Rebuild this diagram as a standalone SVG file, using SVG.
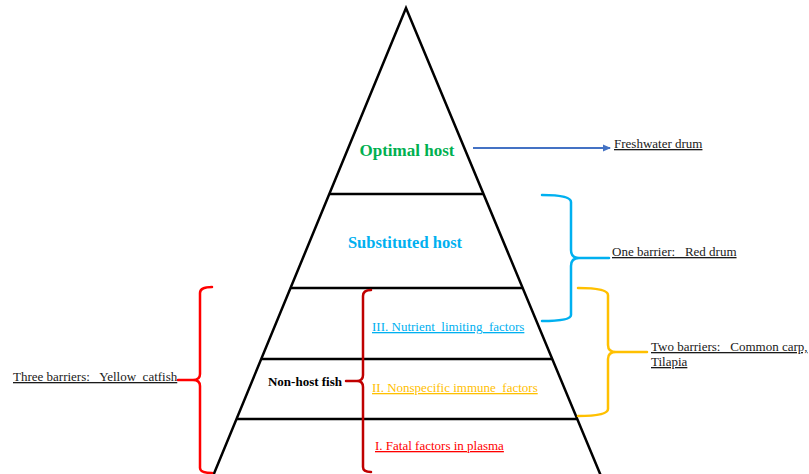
<svg xmlns="http://www.w3.org/2000/svg" width="809" height="474" viewBox="0 0 809 474">
<style>
text{font-family:"Liberation Serif","Times New Roman",serif;white-space:pre}
.lbl{font-size:13px;fill:#1a1a1a;text-decoration:underline}
.tier{font-size:13px;text-decoration:underline}
.ttl{font-weight:bold}
.tri{fill:none;stroke:#000;stroke-width:2.5}
.brace{fill:none;stroke-width:2.5;stroke-linecap:round;stroke-linejoin:round}
</style>
<defs>
<marker id="ah" markerWidth="8" markerHeight="8" refX="7" refY="4" orient="auto" markerUnits="userSpaceOnUse">
<path d="M0,0.5 L8,4 L0,7.5 z" fill="#4472c4"/>
</marker>
</defs>
<rect width="809" height="474" fill="#fff"/>
<g id="pyramid">
<path class="tri" d="M213,476 L406,8 L601,476"/>
<line class="tri" x1="330" y1="194" x2="484" y2="194"/>
<line class="tri" x1="291" y1="288" x2="523" y2="288"/>
<line class="tri" x1="262" y1="359" x2="553" y2="359"/>
<line class="tri" x1="237" y1="419" x2="578" y2="419"/>
</g>
<g id="optimal-host"><text class="ttl" x="407" y="156" font-size="17" fill="#00b050" text-anchor="middle">Optimal host</text></g>
<g id="substituted-host"><text class="ttl" x="405" y="248" font-size="16.5" fill="#00b0f0" text-anchor="middle">Substituted host</text></g>
<g id="non-host"><text class="ttl" x="305" y="386" font-size="13" fill="#000" text-anchor="middle">Non-host fish</text></g>
<g id="tier3"><text class="tier" x="372" y="331" fill="#00b0f0">III. Nutrient  limiting  factors</text></g>
<g id="tier2"><text class="tier" x="372" y="392" fill="#ffc000">II. Nonspecific immune  factors</text></g>
<g id="tier1"><text class="tier" x="375" y="450" fill="#ff0000">I. Fatal factors in plasma</text></g>
<g id="freshwater-drum"><text class="lbl" x="614" y="148">Freshwater drum</text></g>
<g id="one-barrier"><text class="lbl" x="612" y="256">One barrier:   Red drum</text></g>
<g id="two-barriers"><text class="lbl" x="651" y="351">Two barriers:   Common carp,</text><text class="lbl" x="651" y="366">Tilapia</text></g>
<g id="three-barriers"><text class="lbl" x="13" y="381">Three barriers:   Yellow  catfish</text></g>
<g id="connectors">
<line x1="473" y1="148" x2="610" y2="148" stroke="#4472c4" stroke-width="2" marker-end="url(#ah)"/>
<path class="brace" stroke="#00b0f0" d="M542,195 Q571,195 571,202 L571,250 Q571,258 579,258 L609,258 M579,258 Q571,258 571,266 L571,315 Q571,321 542,321"/>
<path class="brace" stroke="#ffc000" d="M578,288 Q608,288 608,295 L608,345 Q608,352 616,352 L647,352 M616,352 Q608,352 608,359 L608,409 Q608,416 578,416"/>
<path class="brace" stroke="#ff0000" d="M212,287 Q200,287 200,293 L200,374 Q200,380 193,380 L178,380 M193,380 Q200,380 200,386 L200,468 Q200,473 212,473"/>
<path class="brace" stroke="#c00000" d="M371,290 Q363,290 363,296 L363,375 Q363,381 357,381 L346,381 M357,381 Q363,381 363,387 L363,467 Q363,472 371,472"/>
</g>
</svg>
